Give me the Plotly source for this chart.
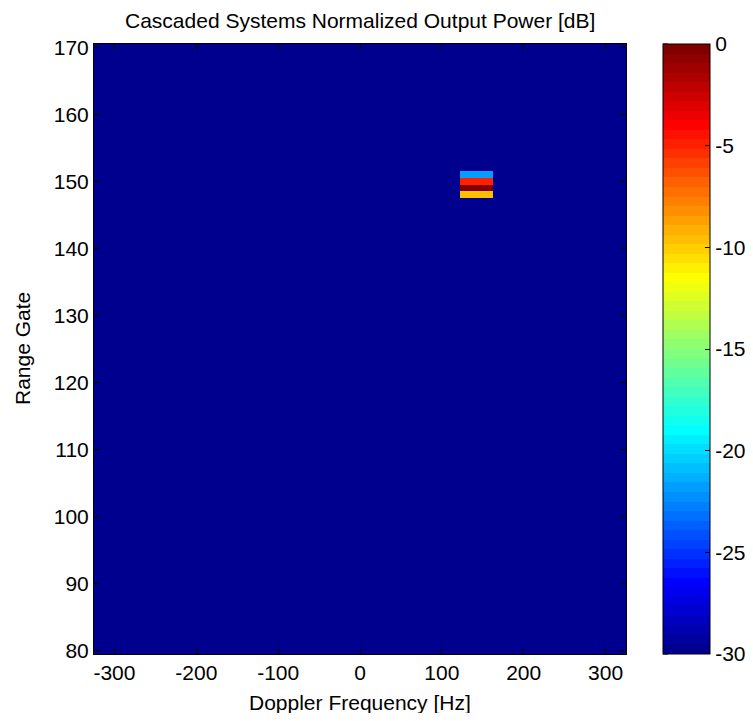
import plotly.graph_objects as go

# ---------------- data ----------------
doppler_bins = [-304.6875, -264.0625, -223.4375, -182.8125, -142.1875, -101.5625,
                -60.9375, -20.3125, 20.3125, 60.9375, 101.5625, 142.1875,
                182.8125, 223.4375, 264.0625, 304.6875]          # Hz (bin centres)
range_gates = list(range(80, 171))                               # range gate numbers
floor_db = -30.0                                                  # display floor
# non-floor cells: (doppler bin centre, range gate, power dB)
peak_doppler = [142.1875, 142.1875, 142.1875, 142.1875]
peak_gate = [151, 150, 149, 148]
peak_db = [-21.8, -4.75, 0.0, -9.6]

x_ticks = [-300, -200, -100, 0, 100, 200, 300]
y_ticks = [80, 90, 100, 110, 120, 130, 140, 150, 160, 170]
cb_ticks = [0, -5, -10, -15, -20, -25, -30]

# build the power matrix
z = [[floor_db for _ in doppler_bins] for _ in range_gates]
for d, g, p in zip(peak_doppler, peak_gate, peak_db):
    z[range_gates.index(g)][doppler_bins.index(d)] = p

# ---------------- MATLAB jet(64) colormap ----------------
m = 64
n = 16
u = [k / n for k in range(1, n + 1)] + [1.0] * (n - 1) + [k / n for k in range(n, 0, -1)]
J = [[0.0, 0.0, 0.0] for _ in range(m)]
for j, val in enumerate(u, start=1):
    gi = 8 + j
    ri = gi + n
    bi = gi - n
    if 1 <= ri <= m:
        J[ri - 1][0] = val
    if 1 <= gi <= m:
        J[gi - 1][1] = val
    if 1 <= bi <= m:
        J[bi - 1][2] = val
colorscale = []
for i, (r, g, b) in enumerate(J):
    c = f"rgb({round(r*255)},{round(g*255)},{round(b*255)})"
    colorscale.append([i / m, c])
    colorscale.append([(i + 1) / m, c])

FONT = "Liberation Sans, Arial, sans-serif"
FS = 21

# layout geometry: page body has an 8px margin, so work in figure coords
OFF = 8
W, H = 753 - 2 * OFF, 721 - 2 * OFF
plot_l, plot_r, plot_t, plot_b = 94 - OFF, 626 - OFF, 44 - OFF, 654 - OFF
L, R, T, B = plot_l, W - plot_r, plot_t, H - plot_b
plot_w = plot_r - plot_l
plot_h = plot_b - plot_t
cb_x = (663 - OFF - plot_l) / plot_w


def px_x(x_abs):
    return (x_abs - OFF - plot_l) / plot_w


def px_y(y_abs):
    return (plot_b - (y_abs - OFF)) / plot_h


fig = go.Figure()
fig.add_trace(go.Heatmap(
    x=doppler_bins, y=range_gates, z=z,
    zmin=-30, zmax=0, colorscale=colorscale, zsmooth=False,
    colorbar=dict(
        x=cb_x, xanchor="left", xpad=0, y=0.5, yanchor="middle", ypad=0,
        len=plot_h, lenmode="pixels", thickness=47, thicknessmode="pixels",
        outlinecolor="black", outlinewidth=1,
        tickmode="array", tickvals=cb_ticks, ticktext=[str(v) for v in cb_ticks],
        ticks="inside", ticklen=5, tickcolor="black",
        tickfont=dict(family=FONT, size=FS, color="black"),
    ),
    hoverinfo="skip",
))

# left-side colorbar tick marks (MATLAB draws them on both sides)
shapes = []
tick_len_paper = 5 / plot_w
for v in cb_ticks:
    yv = (v + 30) / 30
    shapes.append(dict(type="line", xref="paper", yref="paper",
                       x0=cb_x, x1=cb_x + tick_len_paper,
                       y0=yv, y1=yv, line=dict(color="black", width=1)))

annotations = [
    dict(text="Cascaded Systems Normalized Output Power [dB]", xref="paper", yref="paper",
         x=0.5, y=px_y(OFF), xanchor="center", yanchor="top", borderpad=0,
         showarrow=False, font=dict(family=FONT, size=FS, color="black")),
    dict(text="Doppler Frequency [Hz]", xref="paper", yref="paper",
         x=0.5, y=px_y(703), xanchor="center", yanchor="middle",
         showarrow=False, font=dict(family=FONT, size=FS, color="black")),
    dict(text="Range Gate", xref="paper", yref="paper", textangle=-90,
         x=px_x(22), y=0.5, xanchor="center", yanchor="middle",
         showarrow=False, font=dict(family=FONT, size=FS, color="black")),
]

fig.update_layout(
    width=W, height=H,
    margin=dict(l=L, r=R, t=T, b=B, pad=0, autoexpand=False),
    paper_bgcolor="white", plot_bgcolor="white",
    font=dict(family=FONT, size=FS, color="black"),
    xaxis=dict(range=[-325, 325], tickmode="array", tickvals=x_ticks,
               ticktext=[str(v) for v in x_ticks], automargin=False,
               ticks="inside", ticklen=6, tickcolor="black",
               showline=True, linecolor="black", linewidth=1, mirror="ticks",
               showgrid=False, zeroline=False),
    yaxis=dict(range=[79.5, 170.5], tickmode="array", tickvals=y_ticks,
               ticktext=[str(v) for v in y_ticks], automargin=False,
               ticks="inside", ticklen=6, tickcolor="black",
               showline=True, linecolor="black", linewidth=1, mirror="ticks",
               showgrid=False, zeroline=False),
    shapes=shapes,
    annotations=annotations,
)

fig.write_html("out.html")
